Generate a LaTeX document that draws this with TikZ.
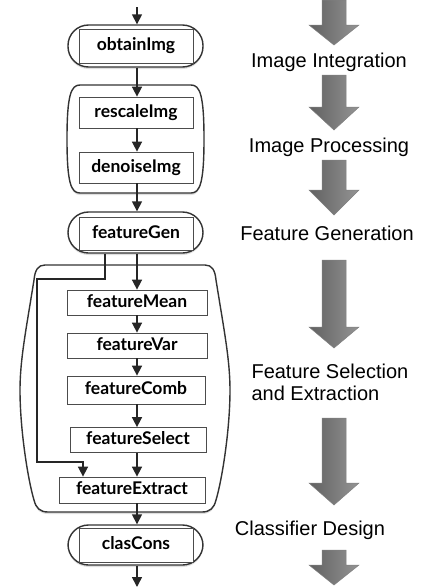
\documentclass[tikz,border=0pt]{standalone}
\usepackage{fontspec}
\setmainfont{Liberation Sans}
\newfontfamily\boxfont{Lato}
\usetikzlibrary{arrows.meta,shadows}
\begin{document}
\begin{tikzpicture}[x=1pt,y=-1pt,
  arr/.style={line width=1.6pt,draw=black!85,-{Triangle[length=10pt,width=10pt]}},
  stad/.style={draw=black!80,line width=1.4pt,fill=white,rounded corners=20.5pt,
    minimum width=135pt,minimum height=42pt,inner sep=0pt,
    drop shadow={opacity=0.25,shadow xshift=0pt,shadow yshift=-2pt}},
  boxtext/.style={font=\boxfont\bfseries\fontsize{17.5}{19}\selectfont,text height=12pt,text depth=3pt},
  inbox/.style={boxtext,draw=black!70,line width=0.8pt,fill=white,minimum height=34pt,inner sep=0pt},
  stepbox/.style={boxtext,draw=black!70,line width=0.8pt,fill=white,minimum height=25pt,inner sep=0pt},
  grp/.style={draw=black!80,line width=1.4pt,fill=white,
    drop shadow={opacity=0.25,shadow xshift=0pt,shadow yshift=-2pt}},
  bigarr/.style={draw=black!50,line width=0.5pt,left color=black!62,middle color=black!20,right color=black!42},
  lab/.style={font=\fontsize{20}{23}\selectfont,anchor=base}
]
\useasboundingbox (0,0) rectangle (421,587);

% ---------- groups ----------
\path[grp] (80,85) -- (191,85) .. controls (200,85) and (204,95) .. (204,139)
  .. controls (204,183) and (200,193) .. (191,193) -- (80,193)
  .. controls (71,193) and (67,183) .. (67,139) .. controls (67,95) and (71,85) .. (80,85) -- cycle;

\path[grp] (45,265) -- (205,265) .. controls (212,265) and (215,270) .. (216,280)
  .. controls (224,330) and (230,360) .. (230,390)
  .. controls (230,430) and (222,480) .. (216,500)
  .. controls (214,508) and (210,512) .. (202,512) -- (48,512)
  .. controls (40,512) and (36,508) .. (34,500)
  .. controls (28,480) and (20,430) .. (20,390)
  .. controls (20,360) and (26,330) .. (34,280)
  .. controls (35,270) and (38,265) .. (45,265) -- cycle;

% ---------- stadiums and steps ----------
\node[stad] (obtainS) at (135.5,46) {};
\node[inbox,minimum width=114pt] (obtainImg) at (136,46) {obtainImg};

\node[stepbox,minimum width=114pt,minimum height=31pt] (rescaleImg) at (136,112.5) {rescaleImg};
\node[stepbox,minimum width=114pt,minimum height=31pt] (denoiseImg) at (136,167.5) {denoiseImg};

\node[stad,minimum height=41pt] (featGenS) at (135.5,232.5) {};
\node[inbox,minimum width=114pt,minimum height=33pt] (featureGen) at (136,233.5) {featureGen};

\node[stepbox,minimum width=140pt] (featureMean) at (137,302.5) {featureMean};
\node[stepbox,minimum width=140pt] (featureVar) at (137,345.5) {featureVar};
\node[stepbox,minimum width=138pt,minimum height=28pt] (featureComb) at (136,390) {featureComb};
\node[stepbox,minimum width=136pt] (featureSelect) at (138,440) {featureSelect};
\node[stepbox,minimum width=146pt,minimum height=26pt] (featureExtract) at (132,490) {featureExtract};

\node[stad,minimum height=40pt] (clasS) at (135.5,545) {};
\node[inbox,minimum width=114pt] (clasCons) at (136,545) {clasCons};

% ---------- connectors ----------
\coordinate (in0) at (137,7);
\coordinate (out0) at (137,587);
\draw[arr] (in0) -- (in0 |- obtainS.north);
\draw[arr] (obtainS.south -| 137,0) -- (rescaleImg.north -| 137,0);
\draw[arr] (rescaleImg.south -| 137,0) -- (denoiseImg.north -| 137,0);
\draw[arr] (denoiseImg.south -| 137,0) -- (featGenS.north -| 137,0);
\draw[arr] (featGenS.south -| 137,0) -- (featureMean.north -| 137,0);
\draw[arr] (featureMean.south -| 137,0) -- (featureVar.north -| 137,0);
\draw[arr] (featureVar.south -| 137,0) -- (featureComb.north -| 137,0);
\draw[arr] (featureComb.south -| 137,0) -- (featureSelect.north -| 137,0);
\draw[arr] (featureSelect.south -| 137,0) -- (featureExtract.north -| 137,0);
\draw[arr] (featureExtract.south -| 137,0) -- (clasS.north -| 137,0);
\draw[arr] (clasS.south -| 137,0) -- (out0);
\draw[arr] (featGenS.south -| 105,0) -- (105,279) -- (37,279) -- (37,462) -- (83,462) -- (featureExtract.north -| 83,0);

% ---------- big arrows ----------
\newcommand\bigarrow[3]{\path[bigarr] (322,#1) -- (346,#1) -- (346,#2) -- (359,#2) -- (334,#3) -- (309,#2) -- (322,#2) -- cycle;}
\bigarrow{0}{25}{45}
\bigarrow{75}{107}{130}
\bigarrow{160}{190}{215}
\bigarrow{260}{327}{348}
\bigarrow{418}{483}{505}
\bigarrow{550}{565}{585}

% ---------- labels ----------
\node[lab] (l1) at (329,67) {Image Integration};
\node[lab] (l2) at (329,152) {Image Processing};
\node[lab] (l3) at (327,240) {Feature Generation};
\node[lab,anchor=base west] (l4) at (248,378) {Feature Selection};
\node[lab,anchor=base west] (l5) at (248,400) {and Extraction};
\node[lab] (l6) at (310,535) {Classifier Design};
\end{tikzpicture}
\end{document}
